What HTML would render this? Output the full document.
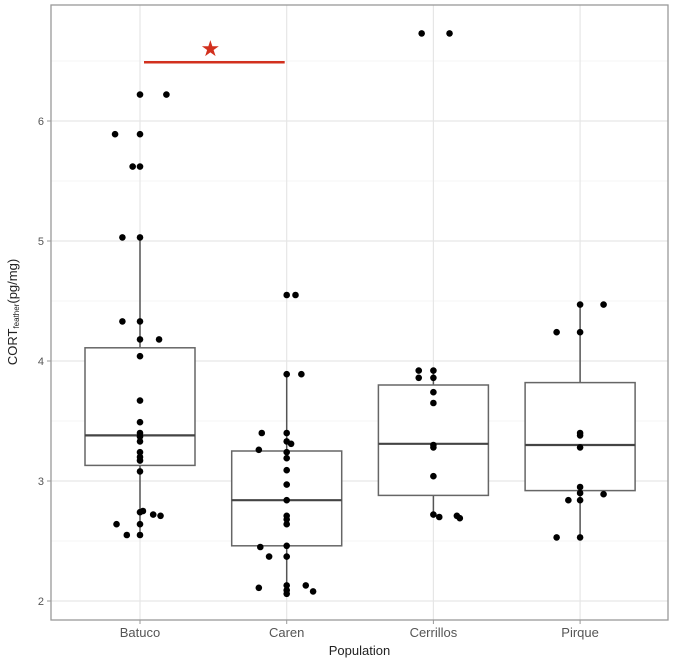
<!DOCTYPE html>
<html><head><meta charset="utf-8"><style>
body{margin:0;background:#fff;font-family:"Liberation Sans",sans-serif}
svg{display:block}
</style></head><body>
<svg id="chart" width="677" height="662" xmlns="http://www.w3.org/2000/svg"></svg>
<script>
const categories=["Batuco","Caren","Cerrillos","Pirque"];
const q1=[3.13,2.46,2.88,2.92];
const medians=[3.38,2.84,3.31,3.30];
const q3=[4.11,3.25,3.80,3.82];
const whiskLo=[2.55,2.06,2.72,2.53];
const whiskHi=[5.03,3.89,3.92,4.47];
const ptsBatuco=[6.22,6.22,5.89,5.89,5.62,5.62,5.03,5.03,4.33,4.33,4.18,4.18,4.04,3.67,3.49,3.40,3.37,3.33,3.24,3.20,3.17,3.08,2.74,2.75,2.72,2.71,2.64,2.64,2.55,2.55];
const jitBatuco=[0,0.18,-0.17,0,-0.05,0,-0.12,0,-0.12,0,0,0.13,0,0,0,0,0,0,0,0,0,0,0,0.02,0.09,0.14,-0.16,0,-0.09,0];
const ptsCaren=[4.55,4.55,3.89,3.89,3.40,3.40,3.33,3.31,3.24,3.26,3.19,3.09,2.97,2.84,2.71,2.68,2.64,2.46,2.45,2.37,2.37,2.11,2.13,2.09,2.06,2.13,2.08];
const jitCaren=[0,0.06,0,0.1,-0.17,0,0,0.03,0,-0.19,0,0,0,0,0,0,0,0,-0.18,-0.12,0,-0.19,0,0,0,0.13,0.18];
const ptsCerrillos=[6.73,6.73,3.92,3.92,3.86,3.86,3.74,3.65,3.30,3.28,3.04,2.72,2.70,2.71,2.69];
const jitCerrillos=[-0.08,0.11,-0.1,0,-0.1,0,0,0,0,0,0,0,0.04,0.16,0.18];
const ptsPirque=[4.47,4.47,4.24,4.24,3.40,3.38,3.28,2.95,2.90,2.84,2.84,2.89,2.53,2.53];
const jitPirque=[0,0.16,-0.16,0,0,0,0,0,0,0,-0.08,0.16,-0.16,0];
const points=[ptsBatuco,ptsCaren,ptsCerrillos,ptsPirque];
const jitters=[jitBatuco,jitCaren,jitCerrillos,jitPirque];
const yTicks=[2,3,4,5,6];
const sigPair=[0,1];const sigLevel=6.49;

const L=51,R=668,T=5,B=620;
const y=v=>601-(v-2)*120;
const xStep=146.7;
const x=i=>140+i*xStep;
const NS="http://www.w3.org/2000/svg";
const svg=document.getElementById('chart');
function el(tag,attrs,parent){const e=document.createElementNS(NS,tag);for(const k in attrs)e.setAttribute(k,attrs[k]);(parent||svg).appendChild(e);return e;}

// grid
[2.5,3.5,4.5,5.5,6.5].forEach(v=>{const g=el('line',{x1:L,x2:R,y1:y(v),y2:y(v),stroke:'#f0f0f0','stroke-width':0.8});

});
yTicks.forEach(v=>{const g=el('line',{x1:L,x2:R,y1:y(v),y2:y(v),stroke:'#e6e6e6','stroke-width':1.2});


const t=el('line',{x1:L-4,x2:L,y1:y(v),y2:y(v),stroke:'#999','stroke-width':1});


const lab=el('text',{x:L-7,y:y(v)+4,'text-anchor':'end','font-size':11,fill:'#555'});lab.textContent=v;

});
categories.forEach((c,i)=>{const g=el('line',{x1:x(i),x2:x(i),y1:T,y2:B,stroke:'#e6e6e6','stroke-width':1.2});


const t=el('line',{x1:x(i),x2:x(i),y1:B,y2:B+4,stroke:'#999'});


const lab=el('text',{x:x(i),y:B+17,'text-anchor':'middle','font-size':13,fill:'#555'});lab.textContent=c;

});

// boxes
const hw=55;
categories.forEach((c,i)=>{
 const g=el('g',{});
 
 
 el('line',{x1:x(i),x2:x(i),y1:y(q3[i]),y2:y(whiskHi[i]),stroke:'#555','stroke-width':1.5},g);
 el('line',{x1:x(i),x2:x(i),y1:y(q1[i]),y2:y(whiskLo[i]),stroke:'#555','stroke-width':1.5},g);
 el('rect',{x:x(i)-hw,y:y(q3[i]),width:2*hw,height:y(q1[i])-y(q3[i]),fill:'#fff',stroke:'#666','stroke-width':1.5},g);
 el('line',{x1:x(i)-hw,x2:x(i)+hw,y1:y(medians[i]),y2:y(medians[i]),stroke:'#444','stroke-width':2.2},g);
});
// points
points.forEach((arr,i)=>arr.forEach((v,j)=>{
 const p=el('circle',{cx:x(i)+jitters[i][j]*xStep,cy:y(v),r:3.3,fill:'#000'});
 
 
}));
// significance
const sl=el('line',{x1:x(sigPair[0])+4,x2:x(sigPair[1])-2,y1:y(sigLevel),y2:y(sigLevel),stroke:'#d2301e','stroke-width':2.5});


const st=el('text',{x:(x(sigPair[0])+x(sigPair[1]))/2-3,y:y(sigLevel)-6,'text-anchor':'middle','font-size':22,fill:'#d2301e'});st.textContent='★';



// panel border
const pb=el('rect',{x:L,y:T,width:R-L,height:B-T,fill:'none',stroke:'#999','stroke-width':1.3});



// titles
const xt=el('text',{x:(L+R)/2,y:655,'text-anchor':'middle','font-size':13,fill:'#222'});xt.textContent='Population';


const yt=el('text',{transform:'translate(17,312) rotate(-90)','text-anchor':'middle','font-size':13,fill:'#222'});


const s1=el('tspan',{},yt);s1.textContent='CORT';
const s2=el('tspan',{'font-size':8,dy:2},yt);s2.textContent='feather';
const s3=el('tspan',{dy:-2},yt);s3.textContent='(pg/mg)';
</script>
</body></html>
